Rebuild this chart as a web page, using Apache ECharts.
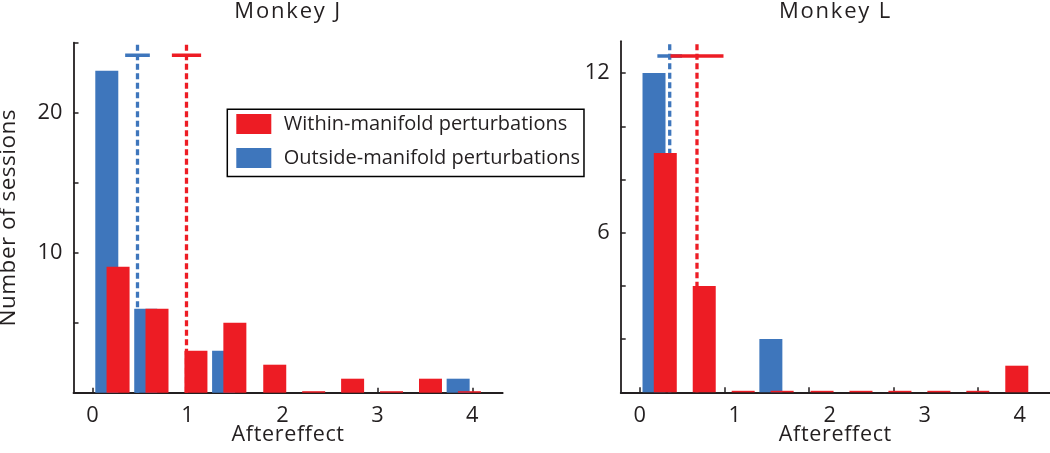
<!DOCTYPE html>
<html>
<head>
<meta charset="utf-8">
<script src="https://cdn.jsdelivr.net/npm/echarts@6/dist/echarts.min.js"></script>
<style>
html, body { margin: 0; padding: 0; background: #fff; }
#chart { width: 1050px; height: 453px; }
</style>
</head>
<body>
<div id="chart"></div>
<script>
// ---- data ----
const titles = ['Monkey J', 'Monkey L'];
const seriesNames = ['Within-manifold perturbations', 'Outside-manifold perturbations'];
const binCenters = [0.21, 0.62, 1.03, 1.44, 1.86, 2.27, 2.68, 3.09, 3.50, 3.91];
const jWithin  = [9, 6, 3, 5, 2, 0, 1, 0, 1, 0];
const jOutside = [23, 6, 0, 3, 0, 0, 0, 0, 0, 1];
const lWithin  = [9, 4, 0, 0, 0, 0, 0, 0, 0, 1];
const lOutside = [12, 0, 0, 2, 0, 0, 0, 0, 0, 0];
// means and their error half-widths: [within, outside]
const jMeans = [0.99, 0.474];
const jErrs  = [0.154, 0.13];
const lMeans = [0.603, 0.316];
const lErrs  = [0.279, 0.13];
const xTickLabels = [0, 1, 2, 3, 4];
const lXTicks = [0, 0.89, 1.78, 2.67, 3.56];
const jYTicks = [0, 5, 10, 15, 20, 25];
const jYLabels = [10, 20];
const lYTicks = [0, 2, 4, 6, 8, 10, 12];
const lYLabels = [6, 12];

// ---- styling ----
const RED = '#ED1C24';
const BLUE = '#3E76BC';
const INK = '#231F20';
const FONT = 'Open Sans';
const FS_TITLE = 22, FS_YNAME = 22.5, FS_XNAME = 21.5, FS_TICK = 21.8, FS_LEGEND = 20;
// letter spacing (px) per font size, to mimic the wide tracking of the original lettering
const TRACKING = { '22': 1.8, '22.5': 0.5, '21.5': 0.65 };
(function () {
  const proto = window.CanvasRenderingContext2D && CanvasRenderingContext2D.prototype;
  if (!proto || !('letterSpacing' in proto)) return;
  const fill = proto.fillText, measure = proto.measureText;
  function apply(ctx) {
    const m = /([\d.]+)px/.exec(ctx.font || '');
    const ls = m ? TRACKING[String(parseFloat(m[1]))] : 0;
    ctx.letterSpacing = (ls || 0) + 'px';
  }
  proto.fillText = function () { apply(this); return fill.apply(this, arguments); };
  proto.measureText = function () { apply(this); return measure.apply(this, arguments); };
})();

const X_MIN = -0.2, X_MAX = 4.32;
const panels = [
  { yMax: 25, errY: 24.1, means: jMeans, errs: jErrs, within: jWithin, outside: jOutside,
    yTicks: jYTicks, yLabels: jYLabels, xTicks: xTickLabels,
    grid: { left: 73.5, top: 42.7, width: 429.2, height: 350 } },
  { yMax: 13.2, errY: 12.64, means: lMeans, errs: lErrs, within: lWithin, outside: lOutside,
    yTicks: lYTicks, yLabels: lYLabels, xTicks: lXTicks,
    grid: { left: 620.7, top: 41.2, width: 429.4, height: 351.1 } }
];

const grids = [], xAxes = [], yAxes = [], series = [], titleOpts = [];
panels.forEach((p, i) => {
  grids.push(Object.assign({ containLabel: false, outerBoundsMode: 'none' }, p.grid));
  titleOpts.push({
    text: titles[i], left: p.grid.left + p.grid.width / 2, top: 0, padding: 0,
    textAlign: 'center',
    textStyle: { fontFamily: FONT, fontSize: FS_TITLE, fontWeight: 'normal', color: INK }
  });
  xAxes.push({
    type: 'value', gridIndex: i, min: X_MIN, max: X_MAX,
    axisLine: { show: true, onZero: false, lineStyle: { color: INK, width: 1.8 } },
    axisTick: { show: true, inside: true, length: 5, customValues: p.xTicks, lineStyle: { color: INK, width: 1.5 } },
    axisLabel: { customValues: xTickLabels, margin: 12, fontFamily: FONT, fontSize: FS_TICK, color: INK },
    splitLine: { show: false },
    name: 'Aftereffect', nameLocation: 'middle', nameGap: 31, nameMoveOverlap: false,
    nameTextStyle: { fontFamily: FONT, fontSize: FS_XNAME, color: INK }
  });
  yAxes.push({
    type: 'value', gridIndex: i, min: 0, max: p.yMax,
    axisLine: { show: true, onZero: false, lineStyle: { color: INK, width: 1.8 } },
    axisTick: { show: true, inside: true, length: 5, customValues: p.yTicks, lineStyle: { color: INK, width: 1.5 } },
    axisLabel: { customValues: p.yLabels, margin: 11, padding: [12, 0, 0, 0],
      fontFamily: FONT, fontSize: FS_TICK, color: INK },
    splitLine: { show: false },
    name: i === 0 ? 'Number of sessions' : '', nameLocation: 'middle', nameGap: 53, nameMoveOverlap: false,
    nameTextStyle: { fontFamily: FONT, fontSize: FS_YNAME, color: INK }
  });
  const colors = [RED, BLUE];
  // dashed mean lines (drawn beneath bars); outside first, then within
  [1, 0].forEach(k => {
    series.push({
      type: 'line', name: 'mean-' + k + '-' + i, xAxisIndex: i, yAxisIndex: i, z: 1,
      symbol: 'none', silent: true, animation: false,
      lineStyle: { color: colors[k], width: 3.3, type: [6, 3.5] },
      data: [[p.means[k], 0], [p.means[k], p.yMax]]
    });
  });
  // error bars
  [1, 0].forEach(k => {
    series.push({
      type: 'line', name: 'err-' + k + '-' + i, xAxisIndex: i, yAxisIndex: i, z: 3,
      symbol: 'none', silent: true, animation: false,
      lineStyle: { color: colors[k], width: 3.5, type: 'solid' },
      data: [[p.means[k] - p.errs[k], p.errY], [p.means[k] + p.errs[k], p.errY]]
    });
  });
  // bars
  series.push({
    type: 'bar', name: seriesNames[1], xAxisIndex: i, yAxisIndex: i, z: 2,
    barWidth: 23, barGap: '-51%', animation: false,
    itemStyle: { color: BLUE },
    data: binCenters.map((c, j) => [c, p.outside[j]])
  });
  series.push({
    type: 'bar', name: seriesNames[0], xAxisIndex: i, yAxisIndex: i, z: 2,
    barWidth: 23, barGap: '-51%', barMinHeight: 1.5, animation: false,
    itemStyle: { color: RED },
    data: binCenters.map((c, j) => [c, p.within[j]])
  });
});

const chart = echarts.init(document.getElementById('chart'), null, { renderer: 'canvas' });
chart.setOption({
  backgroundColor: '#fff',
  animation: false,
  title: titleOpts,
  grid: grids,
  xAxis: xAxes,
  yAxis: yAxes,
  legend: {
    data: [seriesNames[0], seriesNames[1]],
    orient: 'vertical', left: 227.3, top: 109.3,
    padding: [4.7, 4, 8.4, 9], itemGap: 14,
    itemWidth: 35, itemHeight: 20, icon: 'rect',
    borderColor: '#000', borderWidth: 1.5,
    textStyle: { fontFamily: FONT, fontSize: FS_LEGEND, color: INK, padding: [0, 0, 0, 7.5] },
    selectedMode: false
  },
  series: series
});
</script>
</body>
</html>
